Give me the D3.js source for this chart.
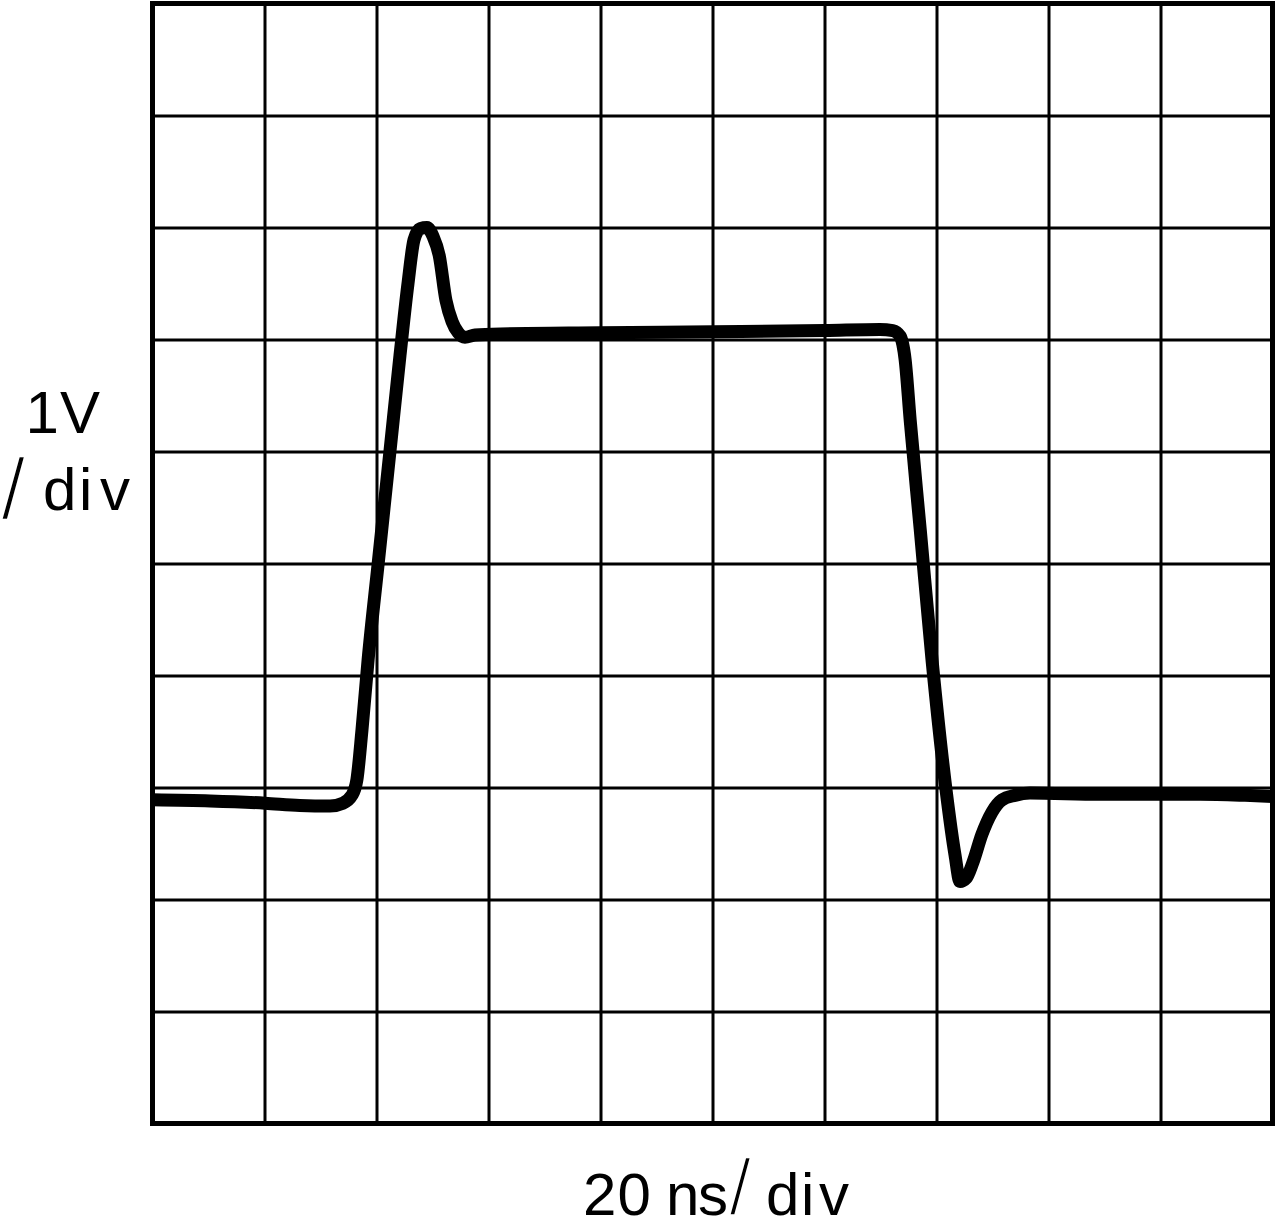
<!DOCTYPE html>
<html>
<head>
<meta charset="utf-8">
<script src="https://cdn.jsdelivr.net/npm/d3@7"></script>
<style>
  html, body { margin: 0; padding: 0; background: #fff; }
  svg { display: block; }
</style>
</head>
<body>
<script>
// ---- data (time in ns, voltage in V) ----
const timeNs = [0, 10.3, 20.1, 26.3, 31.7, 34.0, 35.6, 36.5, 37.4, 38.5, 40.3, 42.4, 44.2, 45.6, 46.7, 47.8, 49.0, 50.1, 51.2, 52.4, 53.5, 54.6, 55.8, 57.6, 62.1, 79.9, 100.1, 120.1, 129.9, 132.2, 133.5, 134.4, 135.3, 137.1, 139.2, 141.7, 143.3, 144.2, 145.3, 146.5, 148.1, 149.9, 151.7, 154.0, 156.7, 169.2, 187.1, 195.1, 200];
const voltage = [-0.11, -0.12, -0.14, -0.16, -0.165, -0.14, -0.07, 0.07, 0.51, 1.14, 2.0, 3.0, 3.86, 4.49, 4.89, 4.99, 5.0, 4.92, 4.75, 4.35, 4.16, 4.06, 4.02, 4.04, 4.05, 4.06, 4.07, 4.08, 4.09, 4.08, 4.03, 3.82, 3.28, 2.30, 1.14, -0.02, -0.60, -0.84, -0.81, -0.67, -0.42, -0.22, -0.11, -0.07, -0.05, -0.06, -0.06, -0.07, -0.08];
const xTicks = [0, 20, 40, 60, 80, 100, 120, 140, 160, 180, 200];
const yTicks = [-3, -2, -1, 0, 1, 2, 3, 4, 5, 6, 7];
const yLabelLines = ["1V", "/div"];
const xLabel = "20 ns/div";

const W = 1276, H = 1232;
const mLeft = 152.5, mTop = 3.5, pw = 1120, ph = 1120;

const svg = d3.select("body").append("svg")
  .attr("width", W).attr("height", H)
  .style("background", "#fff");

const x = d3.scaleLinear().domain([0, 200]).range([mLeft, mLeft + pw]);
const y = d3.scaleLinear().domain([-3, 7]).range([mTop + ph, mTop]);

// grid via axes
const gx = svg.append("g")
  .attr("transform", `translate(0,${mTop})`)
  .call(d3.axisBottom(x).tickValues(xTicks).tickSize(ph).tickSizeOuter(0).tickFormat(""));
gx.select(".domain").remove();
gx.selectAll(".tick line").attr("stroke", "#000").attr("stroke-width", 3);

const gy = svg.append("g")
  .attr("transform", `translate(${mLeft},0)`)
  .call(d3.axisRight(y).tickValues(yTicks).tickSize(pw).tickSizeOuter(0).tickFormat(""));
gy.select(".domain").remove();
gy.selectAll(".tick line").attr("stroke", "#000").attr("stroke-width", 3);

// border
svg.append("rect")
  .attr("x", mLeft).attr("y", mTop).attr("width", pw).attr("height", ph)
  .attr("fill", "none").attr("stroke", "#000").attr("stroke-width", 5);

// trace
const data = timeNs.map((t, i) => ({ t, v: voltage[i] }));
const line = d3.line().x(d => x(d.t)).y(d => y(d.v)).curve(d3.curveMonotoneX);
svg.append("path")
  .datum(data)
  .attr("d", line)
  .attr("fill", "none")
  .attr("stroke", "#000")
  .attr("stroke-width", 13)
  .attr("stroke-linejoin", "round")
  .attr("stroke-linecap", "butt");

// labels: one text element per label, glyphs placed individually
const font = "'Liberation Sans', Arial, sans-serif";
function label(str, xs, base, slashDy, slashSize) {
  const t = svg.append("text")
    .attr("font-family", font)
    .attr("font-size", 60)
    .attr("fill", "#000")
    .style("white-space", "pre");
  [...str].forEach((ch, i) => {
    const ts = t.append("tspan").attr("x", xs[i]).attr("y", base).text(ch);
    if (ch === "/") {
      ts.attr("font-size", slashSize).attr("y", base + slashDy)
        .attr("stroke", "#fff").attr("stroke-width", 2.6);
    }
  });
}
label(yLabelLines[0], [25.5, 60], 433, 0, 88);
label(yLabelLines[1], [1, 43, 79, 100], 510, 9, 88);
label(xLabel, [583, 617.5, 645, 666, 698, 729, 766, 801, 819], 1215, 0, 80);
</script>
</body>
</html>
